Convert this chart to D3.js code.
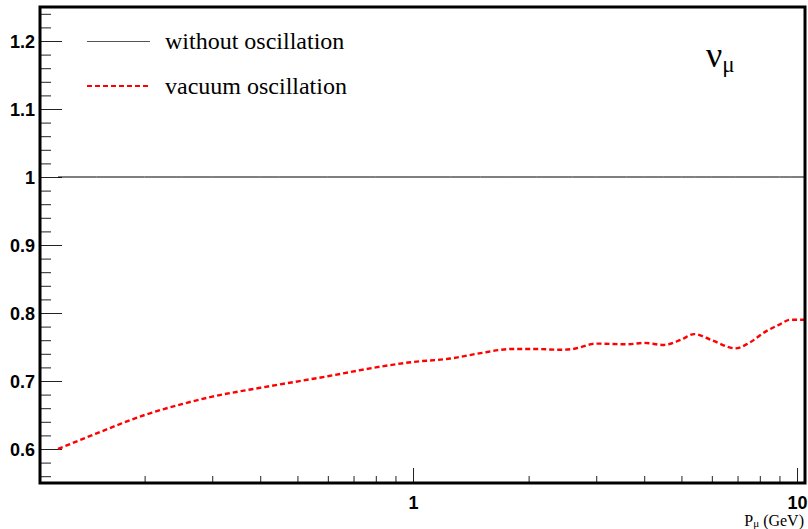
<!DOCTYPE html>
<html>
<head>
<meta charset="utf-8">
<script src="https://cdn.jsdelivr.net/npm/d3@7"></script>
<style>
  html, body { margin: 0; padding: 0; background: #fff; }
  svg { display: block; }
</style>
</head>
<body>
<svg id="chart" width="808" height="529"></svg>
<script>
// Muon momentum (GeV) and event ratio with vacuum oscillation, relative to no oscillation
const momentum = [0.119, 0.15, 0.2, 0.25, 0.3, 0.4, 0.45, 0.6, 0.8, 1.0, 1.25, 1.5, 1.8, 2.1, 2.4, 2.6, 3.0, 3.6, 4.0, 4.5, 5.0, 5.4, 6.0, 6.9, 7.5, 8.3, 9.0, 9.6, 10.5];
const ratioVacuum = [0.600, 0.623, 0.650, 0.666, 0.677, 0.690, 0.695, 0.707, 0.720, 0.728, 0.733, 0.741, 0.747, 0.747, 0.746, 0.747, 0.755, 0.754, 0.756, 0.753, 0.761, 0.769, 0.760, 0.748, 0.756, 0.773, 0.783, 0.790, 0.790];
const ratioNoOsc = momentum.map(() => 1);

const yMajorTicks = [0.6, 0.7, 0.8, 0.9, 1.0, 1.1, 1.2];
const yTickLabels = ["0.6", "0.7", "0.8", "0.9", "1", "1.1", "1.2"];
const yMinorTicks = [0.56, 0.58, 0.62, 0.64, 0.66, 0.68, 0.72, 0.74, 0.76, 0.78, 0.82, 0.84, 0.86, 0.88, 0.92, 0.94, 0.96, 0.98, 1.02, 1.04, 1.06, 1.08, 1.12, 1.14, 1.16, 1.18, 1.22, 1.24];
const xMajorTicks = [1, 10];
const xTickLabels = ["1", "10"];
const xMinorTicks = [0.2, 0.3, 0.4, 0.5, 0.6, 0.7, 0.8, 0.9, 2, 3, 4, 5, 6, 7, 8, 9];

const legendLabels = ["without oscillation", "vacuum oscillation"];

const svg = d3.select("#chart");
const frame = { left: 40, right: 805, top: 7, bottom: 483 };

const x = d3.scaleLog().domain([0.1068, 10.49]).range([frame.left, frame.right]);
const y = d3.scaleLinear().domain([0.55, 1.25]).range([frame.bottom, frame.top]);

const boldFont = "'Liberation Sans', Arial, Helvetica, sans-serif";
const serifFont = "'Liberation Serif', 'Times New Roman', serif";

// Y axis: major ticks with labels, minor ticks without
const yAxis = svg.append("g").attr("transform", `translate(${frame.left},0)`)
  .call(d3.axisLeft(y).tickValues(yMajorTicks).tickSize(-22).tickPadding(5)
    .tickFormat((d, i) => yTickLabels[i]));
yAxis.select(".domain").remove();
yAxis.selectAll("line").attr("stroke", "#222");
yAxis.selectAll("text")
  .attr("font-family", boldFont).attr("font-weight", "bold").attr("font-size", 18)
  .attr("fill", "#000").attr("dy", "0.35em");

const yMinor = svg.append("g").attr("transform", `translate(${frame.left},0)`)
  .call(d3.axisLeft(y).tickValues(yMinorTicks).tickSize(-11).tickFormat(""));
yMinor.select(".domain").remove();
yMinor.selectAll("line").attr("stroke", "#222");

// X axis (log): ticks point up into the frame
const xAxis = svg.append("g").attr("transform", `translate(0,${frame.bottom})`)
  .call(d3.axisBottom(x).tickValues(xMajorTicks).tickSize(-15).tickPadding(13)
    .tickFormat((d, i) => xTickLabels[i]));
xAxis.select(".domain").remove();
xAxis.selectAll("line").attr("stroke", "#222");
xAxis.selectAll("text")
  .attr("font-family", boldFont).attr("font-weight", "bold").attr("font-size", 18)
  .attr("fill", "#000");

const xMinor = svg.append("g").attr("transform", `translate(0,${frame.bottom})`)
  .call(d3.axisBottom(x).tickValues(xMinorTicks).tickSize(-7).tickFormat(""));
xMinor.select(".domain").remove();
xMinor.selectAll("line").attr("stroke", "#222");

// Curves
const line = d3.line()
  .x((d, i) => x(momentum[i]))
  .y(d => y(d))
  .curve(d3.curveMonotoneX);

svg.append("path")
  .datum(ratioNoOsc)
  .attr("d", line)
  .attr("fill", "none")
  .attr("stroke", "#000")
  .attr("stroke-width", 1);

svg.append("path")
  .datum(ratioVacuum)
  .attr("d", line)
  .attr("fill", "none")
  .attr("stroke", "#ff0000")
  .attr("stroke-width", 2.4)
  .attr("stroke-dasharray", "5,3");

// Frame
svg.append("rect")
  .attr("x", frame.left).attr("y", frame.top)
  .attr("width", frame.right - frame.left).attr("height", frame.bottom - frame.top)
  .attr("fill", "none").attr("stroke", "#000").attr("stroke-width", 3);

// Legend
const legend = svg.append("g");
legend.append("line")
  .attr("x1", 87).attr("x2", 150).attr("y1", 41.5).attr("y2", 41.5)
  .attr("stroke", "#555").attr("stroke-width", 1.2);
legend.append("line")
  .attr("x1", 87).attr("x2", 150).attr("y1", 86).attr("y2", 86)
  .attr("stroke", "#ff0000").attr("stroke-width", 2).attr("stroke-dasharray", "5,3");
legend.selectAll("text.leg")
  .data(legendLabels)
  .join("text")
  .attr("class", "leg")
  .attr("x", 165)
  .attr("y", (d, i) => 48.5 + i * 45.5)
  .attr("font-family", serifFont)
  .attr("font-size", 24)
  .attr("fill", "#000")
  .text(d => d);

// Neutrino flavour tag
const tag = svg.append("text")
  .attr("x", 706).attr("y", 66.5)
  .attr("font-family", serifFont).attr("font-size", 36).attr("fill", "#000");
tag.append("tspan").text("ν");
tag.append("tspan").attr("font-size", 23).attr("dy", 5).text("μ");

// Axis title
const title = svg.append("text")
  .attr("x", 804).attr("y", 526)
  .attr("text-anchor", "end")
  .attr("font-family", serifFont).attr("font-size", 16).attr("fill", "#000");
title.append("tspan").text("P");
title.append("tspan").attr("font-size", 11).attr("dy", 1).text("μ");
title.append("tspan").attr("dy", -1).text(" (GeV)");
</script>
</body>
</html>
